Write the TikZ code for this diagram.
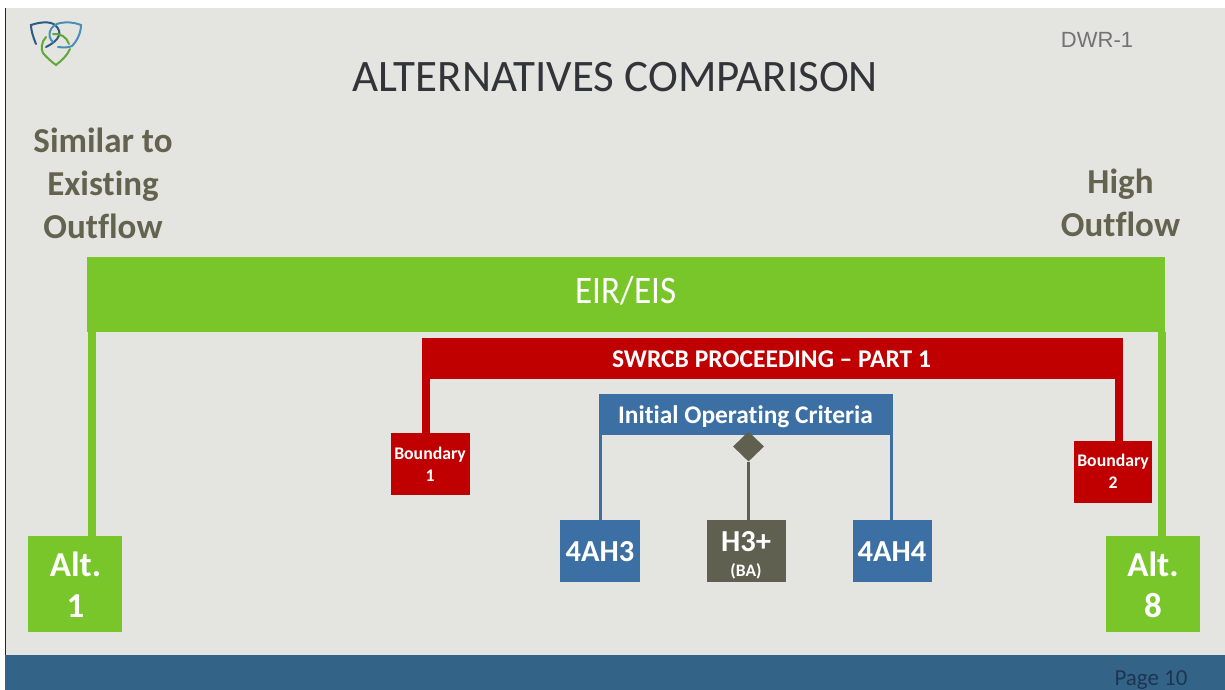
\documentclass[tikz,border=0pt]{standalone}
\usepackage{fontspec}
\setmainfont[Ligatures=NoCommon]{Carlito}
\newfontfamily\arialf{Liberation Sans}
\usetikzlibrary{shapes.geometric}
\definecolor{bgc}{HTML}{E4E5E0}
\definecolor{grn}{HTML}{78C62A}
\definecolor{redc}{HTML}{C00000}
\definecolor{bluec}{HTML}{3C6FA3}
\definecolor{olivec}{HTML}{5F604F}
\definecolor{footc}{HTML}{336488}
\definecolor{headc}{HTML}{63634F}
\definecolor{titlec}{HTML}{33333A}
\definecolor{pagec}{HTML}{1E3550}
\definecolor{logoa}{HTML}{2A5A86}
\definecolor{logob}{HTML}{4A8FB5}
\definecolor{logoc}{HTML}{5EA83A}
\tikzset{
  fbox/.style={anchor=north west,inner sep=0pt,outer sep=0pt,align=center,text=white,font=\bfseries},
  lbl/.style={inner sep=0pt,align=center,text=white},
  gbar/.style={draw=grn,line width=8pt},
  rbar/.style={draw=redc,line width=8pt},
  bbar/.style={draw=bluec,line width=3pt},
  obar/.style={draw=olivec,line width=3pt},
  head/.style={align=center,text=headc,inner sep=0pt,font=\fontsize{35}{43}\selectfont\bfseries},
  lg/.style={line width=2pt,line cap=round}
}
\begin{document}
\begin{tikzpicture}[x=1pt,y=-1pt]
\useasboundingbox (0,0) rectangle (1225,690);
\fill[white] (0,0) rectangle (1225,690);
\fill[bgc] (5,8) rectangle (1225,655);
\fill[black!85] (5,8) rectangle (6,655);
\fill[footc] (5,655) rectangle (1225,690);
% logo
\draw[lg,color=logoa] (36,44) .. controls (33,37) and (31,30) .. (31,25) .. controls (40,22) and (50,21) .. (55,25) .. controls (63,32) and (60,40) .. (46,47);
\draw[lg,color=logob] (58,47) .. controls (65,48) and (70,47) .. (72,46) .. controls (77,41) and (81,33) .. (81,25) .. controls (74,22) and (66,22) .. (60,23) .. controls (50,25) and (46,36) .. (53,42);
\draw[lg,color=logoc] (46,37) .. controls (41,42) and (41,50) .. (43,53) .. controls (47,58) and (52,62) .. (56,65) .. controls (61,61) and (67,56) .. (70,49);
\draw[lg,color=logoc] (53,34) .. controls (60,33) and (67,37) .. (69,44);
% titles
\node[inner sep=0pt,text=titlec,font=\fontsize{45}{50}\selectfont] (title) at (615,77) {ALTERNATIVES COMPARISON};
\node[inner sep=0pt,text=gray!90!black,font=\arialf\fontsize{22}{26}\selectfont] (dwr) at (1097,40) {DWR-1};
\node[head] (sim) at (103,183.5) {Similar to\\Existing\\Outflow};
\node[head] (high) at (1120.5,202.5) {High\\Outflow};
\node[inner sep=0pt,text=pagec,font=\fontsize{23}{26}\selectfont] (page) at (1151,680) {Page 10};
% boxes
\node[fbox,fill=grn,minimum width=1078pt,minimum height=75pt] (eir) at (87,257) {};
\node[fbox,fill=redc,minimum width=701pt,minimum height=41pt] (swrcb) at (422,338) {};
\node[fbox,fill=bluec,minimum width=294pt,minimum height=41pt] (ioc) at (598.5,394) {};
\node[fbox,fill=redc,minimum width=79pt,minimum height=62pt,font=\fontsize{17.7}{22}\selectfont\bfseries] (b1) at (390.5,433) {Boundary\\1};
\node[fbox,fill=redc,minimum width=78pt,minimum height=62pt,font=\fontsize{17.7}{22}\selectfont\bfseries] (b2) at (1074,440.5) {Boundary\\2};
\node[fbox,fill=grn,minimum width=94pt,minimum height=96pt] (alt1) at (28,536) {};
\node[fbox,fill=grn,minimum width=94pt,minimum height=96pt] (alt8) at (1106,536) {};
\node[fbox,fill=bluec,minimum width=80pt,minimum height=62pt] (ah3) at (560,520) {};
\node[fbox,fill=bluec,minimum width=79pt,minimum height=62pt] (ah4) at (852.5,520) {};
\node[fbox,fill=olivec,minimum width=79pt,minimum height=62pt] (h3) at (706.5,520) {};
\node[diamond,fill=olivec,inner sep=0pt,minimum width=31pt,minimum height=30pt] (dia) at (748.5,446.5) {};
% labels
\node[lbl,xscale=0.9,font=\fontsize{39}{42}\selectfont] (eirt) at (626,291) {EIR/EIS};
\node[lbl,font=\fontsize{25.5}{28}\selectfont\bfseries] (swrcbt) at (771.5,359.5) {SWRCB PROCEEDING – PART 1};
\node[lbl,font=\fontsize{25.4}{28}\selectfont\bfseries] (ioct) at (745.5,416.5) {Initial Operating Criteria};
\node[lbl,font=\fontsize{35}{41}\selectfont\bfseries] (alt1t) at (75.5,585) {Alt.\\1};
\node[lbl,font=\fontsize{35}{41}\selectfont\bfseries] (alt8t) at (1153,585) {Alt.\\8};
\node[lbl,font=\fontsize{30.5}{32}\selectfont\bfseries] (ah3t) at (600,552) {4AH3};
\node[lbl,font=\fontsize{30.5}{32}\selectfont\bfseries] (ah4t) at (892,552) {4AH4};
\node[lbl,font=\fontsize{30.5}{28}\selectfont\bfseries] (h3t) at (746,555) {H3+\\[-3pt]{\fontsize{17.5}{18}\selectfont (BA)}};
% connectors
\draw[gbar] ([xshift=5pt]eir.south west) -- ([xshift=5pt]eir.south west |- alt1.north);
\draw[gbar] ([xshift=-3.5pt]eir.south east) -- ([xshift=-3.5pt]eir.south east |- alt8.north);
\draw[rbar] ([xshift=4pt]swrcb.south west) -- ([xshift=4pt]swrcb.south west |- b1.north);
\draw[rbar] ([xshift=-4pt]swrcb.south east) -- ([xshift=-4pt]swrcb.south east |- b2.north);
\draw[bbar] ([xshift=1.5pt]ioc.south west) -- ([xshift=1.5pt]ioc.south west |- ah3.north);
\draw[bbar] ([xshift=-1.5pt]ioc.south east) -- ([xshift=-1.5pt]ioc.south east |- ah4.north);
\draw[obar] (dia.south) -- (dia.south |- h3.north);
\end{tikzpicture}
\end{document}
